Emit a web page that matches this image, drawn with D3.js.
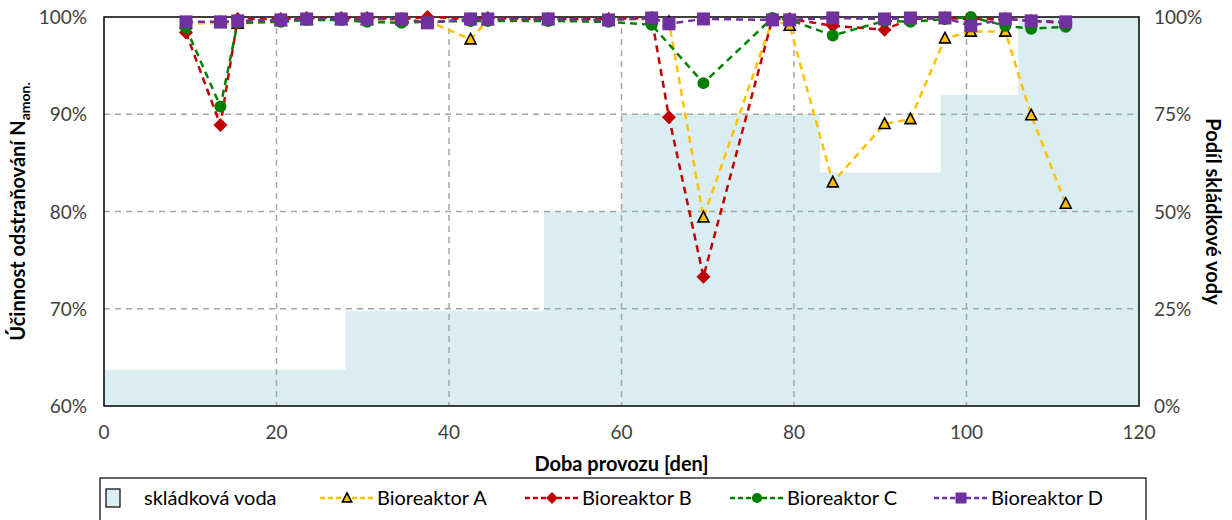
<!DOCTYPE html>
<html><head><meta charset="utf-8">
<script src="https://cdn.jsdelivr.net/npm/d3@7"></script>
<style>body{margin:0;background:#fff}svg{display:block;font-family:Lato,"Open Sans",sans-serif}</style>
</head><body><svg id="c" width="1232" height="520"></svg>
<script>
const days = [9.5,13.5,15.5,20.5,23.5,27.5,30.5,34.5,37.5,42.5,44.5,51.5,58.5,63.5,65.5,69.5,77.5,79.5,84.5,90.5,93.5,97.5,100.5,104.5,107.5,111.5];
const bioA = [99.3,99.4,99.3,99.6,99.7,99.7,99.7,99.7,99.6,97.7,99.7,99.7,99.7,99.8,99.5,79.4,99.7,99.1,83.0,89.0,89.5,97.8,98.5,98.5,89.9,80.8];
const bioB = [98.4,88.9,99.8,99.8,99.9,99.9,99.9,99.8,100.0,99.8,99.9,99.8,99.8,99.9,89.7,73.3,99.8,99.8,99.1,98.7,99.8,99.9,99.8,99.8,99.6,99.4];
const bioC = [98.9,90.8,99.4,99.5,99.7,99.7,99.5,99.4,99.5,99.6,99.6,99.6,99.5,99.2,null,93.2,99.9,99.7,98.1,99.6,99.5,99.8,100.0,99.1,98.8,99.0];
const bioD = [99.5,99.5,99.6,99.7,99.8,99.8,99.8,99.8,99.4,99.8,99.8,99.8,99.7,99.9,99.3,99.8,99.7,99.7,99.9,99.8,99.9,99.9,99.1,99.8,99.6,99.5];
// landfill water share steps: [start day, end day, share %]
const stepStart = [0,28,51,60,83,97,106];
const stepEnd   = [28,51,60,83,97,106,120];
const stepShare = [9.3,24.5,50,75,60,80,100];
const xTicks = [0,20,40,60,80,100,120];
const yTicksLeft = [60,70,80,90,100];
const yTicksRight = [0,25,50,75,100];

const svg = d3.select("#c");
const L=104, R=1139, T=17, B=406;
const x = d3.scaleLinear().domain([0,120]).range([L,R]);
const y = d3.scaleLinear().domain([60,100]).range([B,T]);
const y2 = d3.scaleLinear().domain([0,100]).range([B,T]);

// area
const stepPts = [];
stepStart.forEach((s,i)=>{stepPts.push([s,stepShare[i]]);stepPts.push([stepEnd[i],stepShare[i]]);});
svg.append("path").attr("d", d3.area().x(d=>x(d[0])).y0(y2(0)).y1(d=>y2(d[1]))(stepPts)).attr("fill","#daedf3");

// grid
const gridC="#a6a6a6";
svg.append("g").selectAll("line").data([20,40,60,80,100]).join("line")
 .attr("x1",d=>x(d)).attr("x2",d=>x(d)).attr("y1",T).attr("y2",B)
 .attr("stroke",gridC).attr("stroke-width",1.5).attr("stroke-dasharray","6,5");
svg.append("g").selectAll("line").data([70,80,90]).join("line")
 .attr("x1",L).attr("x2",R).attr("y1",d=>y(d)).attr("y2",d=>y(d))
 .attr("stroke",gridC).attr("stroke-width",1.5).attr("stroke-dasharray","6,5");

// frame
svg.append("rect").attr("x",L).attr("y",T).attr("width",R-L).attr("height",B-T).attr("fill","none").attr("stroke","#000").attr("stroke-width",1.5);

// axes labels
const fs=19;
svg.append("g").selectAll("text").data(yTicksLeft).join("text").attr("x",L-17).attr("y",d=>y(d)+7)
 .attr("text-anchor","end").attr("font-size",fs).attr("fill","#404040").text(d=>d+"%");
svg.append("g").selectAll("text").data(yTicksRight).join("text").attr("x",R+15).attr("y",d=>y2(d)+7)
 .attr("text-anchor","start").attr("font-size",fs).attr("fill","#404040").text(d=>d+"%");
svg.append("g").selectAll("text").data(xTicks).join("text").attr("x",d=>x(d)).attr("y",B+33)
 .attr("text-anchor","middle").attr("font-size",fs).attr("fill","#404040").text(d=>d);

svg.append("text").attr("x",(L+R)/2).attr("y",B+65).attr("text-anchor","middle").attr("font-size",20).attr("font-weight","bold").text("Doba provozu [den]");
const yl = svg.append("text").attr("transform",`translate(25,${(T+B)/2}) rotate(-90)`).attr("text-anchor","middle").attr("font-size",20).attr("font-weight","bold");
yl.append("tspan").text("Účinnost odstraňování N");
yl.append("tspan").attr("font-size",14).attr("dy",5).text("amon.");
svg.append("text").attr("transform",`translate(1206,${(T+B)/2}) rotate(90)`).attr("text-anchor","middle").attr("font-size",20).attr("font-weight","bold").text("Podíl skládkové vody");

// series
const series = [
 {name:"Bioreaktor A", vals:bioA, color:"#ffc000", marker:"tri"},
 {name:"Bioreaktor B", vals:bioB, color:"#c00000", marker:"dia"},
 {name:"Bioreaktor C", vals:bioC, color:"#008000", marker:"cir"},
 {name:"Bioreaktor D", vals:bioD, color:"#7030a0", marker:"sq"}
];
function marker(g, type, color, cx, cy, k=1){
  if(type==="tri") g.append("path").attr("d",`M${cx},${cy-6*k}L${cx+5.5*k},${cy+4.5*k}L${cx-5.5*k},${cy+4.5*k}Z`).attr("fill",color).attr("stroke","#000").attr("stroke-width",1.6);
  else if(type==="dia") g.append("path").attr("d",`M${cx},${cy-7*k}L${cx+7*k},${cy}L${cx},${cy+7*k}L${cx-7*k},${cy}Z`).attr("fill",color);
  else if(type==="cir") g.append("circle").attr("cx",cx).attr("cy",cy).attr("r",6*k).attr("fill",color);
  else g.append("rect").attr("x",cx-6.5*k).attr("y",cy-6.5*k).attr("width",13*k).attr("height",13*k).attr("fill",color);
}
series.forEach(s=>{
  const pts = days.map((d,i)=>[d,s.vals[i]]).filter(p=>p[1]!=null);
  const g = svg.append("g");
  g.append("path").attr("d",d3.line().x(d=>x(d[0])).y(d=>y(d[1]))(pts)).attr("fill","none")
   .attr("stroke",s.color).attr("stroke-width",2.5).attr("stroke-dasharray","7,5");
  pts.forEach(p=>marker(g,s.marker,s.color,x(p[0]),y(p[1])));
});

// legend
const lg = svg.append("g");
lg.append("rect").attr("x",100).attr("y",478).attr("width",1046).attr("height",50).attr("fill","#fff").attr("stroke","#000").attr("stroke-width",1.2);
lg.append("rect").attr("x",106).attr("y",489).attr("width",14).attr("height",18).attr("fill","#daedf3").attr("stroke","#000").attr("stroke-width",1.2);
lg.append("text").attr("x",144).attr("y",505).attr("font-size",20).text("skládková voda");
const lx=[320,525,730,934];
series.forEach((s,i)=>{
  lg.append("line").attr("x1",lx[i]).attr("x2",lx[i]+54).attr("y1",498).attr("y2",498).attr("stroke",s.color).attr("stroke-width",2.5).attr("stroke-dasharray","5,3");
  marker(lg,s.marker,s.color,lx[i]+27,498,0.85);
  lg.append("text").attr("x",lx[i]+57).attr("y",505).attr("font-size",20).text(s.name);
});
</script></body></html>
